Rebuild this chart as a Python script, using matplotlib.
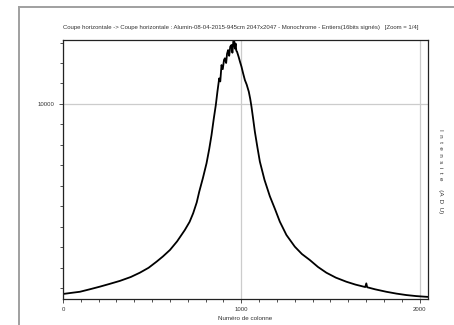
import matplotlib
matplotlib.use('Agg')
import matplotlib.pyplot as plt
from matplotlib.lines import Line2D
from matplotlib.ticker import MultipleLocator, FixedLocator

plt.rcParams['font.family'] = ['Liberation Sans', 'DejaVu Sans']

# profil (colonne, intensite)
colonnes = [0, 50, 95, 150, 207, 260, 319, 380, 431, 480, 525, 560, 600, 640, 683,
            710, 730, 750, 764, 785, 805, 820, 833, 845, 857, 866, 876, 882, 889, 896,
            903, 908, 915, 920, 926, 932, 938, 945, 950, 955, 960, 964, 968, 972, 976,
            985, 993, 1001, 1010, 1020, 1030, 1042, 1050, 1057, 1066, 1076, 1090, 1104,
            1130, 1160, 1190, 1216, 1253, 1300, 1340, 1384, 1430, 1477, 1530, 1589, 1640,
            1695, 1701, 1706, 1750, 1813, 1870, 1925, 1980, 2028, 2047]
intensite = [732, 790, 840, 960, 1090, 1220, 1370, 1560, 1770, 2010, 2310, 2560, 2880, 3300, 3850,
             4250, 4670, 5200, 5720, 6400, 7110, 7800, 8490, 9250, 9950, 10600, 11250, 11100, 11900, 11700,
             12150, 12230, 12000, 12450, 12630, 12350, 12800, 12880, 12500, 13050, 13120, 12700, 12950, 12600, 12550,
             12300, 12050, 11820, 11500, 11170, 10950, 10600, 10250, 9870, 9300, 8650, 7900, 7190,
             6300, 5500, 4850, 4260, 3610, 3040, 2680, 2390, 2050, 1770, 1530, 1330, 1190,
             1070, 1250, 1060, 960, 840, 750, 680, 630, 600, 590]

titre = ("Coupe horizontale -> Coupe horizontale : Alumin-08-04-2015-945cm 2047x2047 - "
         "Monochrome - Entiers(16bits signés)   [Zoom = 1/4]")

fig = plt.figure(figsize=(4.54, 3.25), dpi=100)
ax = fig.add_axes([63/454, 1 - 299/325, 365/454, 259/325])

ax.plot(colonnes, intensite, color='black', lw=1.3)

ax.set_xlim(0, 2047)
ax.set_ylim(487, 13122)

ax.xaxis.set_major_locator(FixedLocator([0, 1000, 2000]))
ax.xaxis.set_minor_locator(MultipleLocator(100))
ax.yaxis.set_major_locator(FixedLocator([10000]))
ax.yaxis.set_minor_locator(MultipleLocator(1000))

ax.tick_params(which='both', direction='out', labelsize=4.3, labelcolor='#333333',
               width=0.6, color='#333333')
ax.tick_params(which='major', length=3)
ax.tick_params(which='minor', length=2)
ax.tick_params(axis='x', pad=3)

ax.grid(True, which='major', color='#cccccc', lw=0.9)
ax.set_axisbelow(True)
for s in ax.spines.values():
    s.set_linewidth(0.9)
    s.set_color('#222222')

ax.set_xlabel('Numéro de colonne', fontsize=4.5, color='#333333', labelpad=3)
fig.text(63/454, 1 - 28/325, titre, fontsize=4.3, color='#333333', ha='left', va='center')
fig.text(441/454, 1 - 171/325, 'I  n  t  e  n  s  i  t  e     (A  D  U)', fontsize=4.5,
         color='#333333', rotation=-90, ha='center', va='center')

# cadre gris de la fenetre
fig.add_artist(Line2D([19/454, 19/454], [0, 1 - 7/325], color='#a0a0a0', lw=1.4))
fig.add_artist(Line2D([19/454, 1], [1 - 7/325, 1 - 7/325], color='#a0a0a0', lw=1.4))

fig.savefig('out.png', dpi=100)
